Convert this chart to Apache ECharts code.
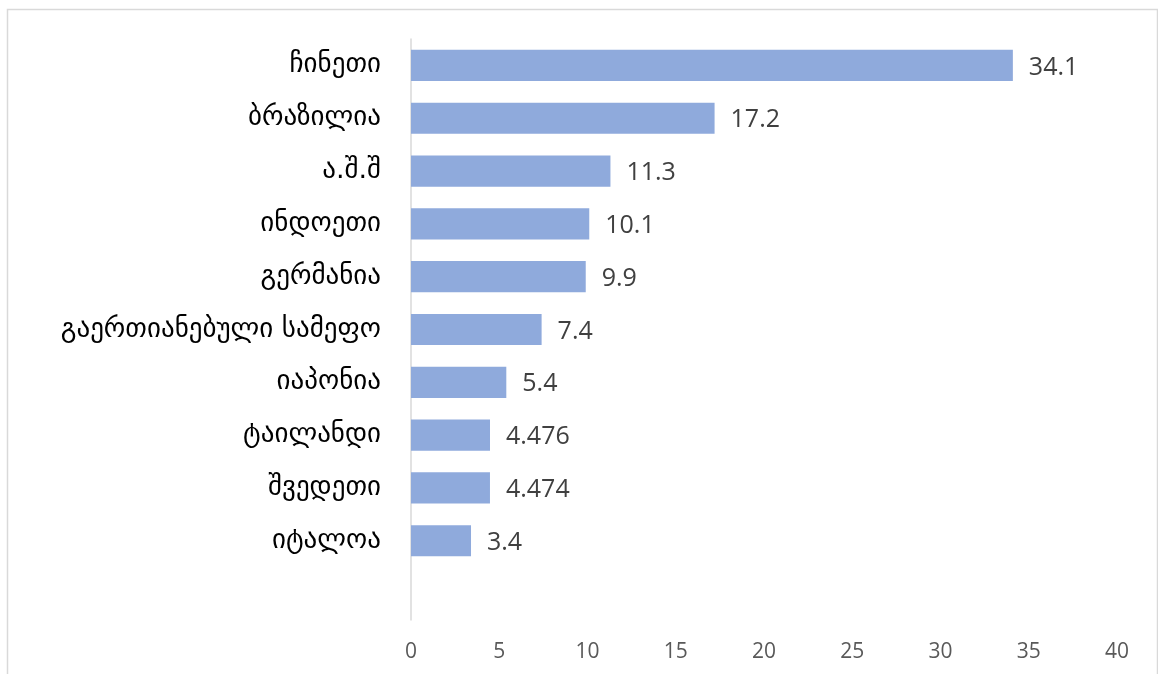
<!DOCTYPE html>
<html><head><meta charset="utf-8">
<script src="https://cdn.jsdelivr.net/npm/echarts@6/dist/echarts.min.js"></script>
<style>html,body{margin:0;padding:0;background:#fff}#c{width:1158px;height:674px}</style>
</head><body><div id="c"></div>
<script>
const categories = ['ჩინეთი','ბრაზილია','ა.შ.შ','ინდოეთი','გერმანია','გაერთიანებული სამეფო','იაპონია','ტაილანდი','შვედეთი','იტალოა',''];
const values = [34.1,17.2,11.3,10.1,9.9,7.4,5.4,4.476,4.474,3.4,null];
const valueLabels = ['34.1','17.2','11.3','10.1','9.9','7.4','5.4','4.476','4.474','3.4',''];
const chart = echarts.init(document.getElementById('c'));
chart.setOption({
  animation:false,
  backgroundColor:'#fff',
  graphic:[{type:'rect',shape:{x:7.5,y:9.5,width:1150,height:700},style:{fill:'none',stroke:'#d9d9d9',lineWidth:1.5},silent:true}],
  grid:{left:411,right:41,top:39,bottom:54,containLabel:false},
  xAxis:{type:'value',min:0,max:40,interval:5,
    axisLine:{show:false},axisTick:{show:false},splitLine:{show:false},
    axisLabel:{color:'#595959',fontSize:21,fontFamily:'Open Sans',margin:22}},
  yAxis:{type:'category',data:categories,inverse:true,
    axisLine:{show:true,lineStyle:{color:'#d9d9d9',width:1.5}},axisTick:{show:false},
    axisLabel:{color:'#000',fontSize:27,fontFamily:'DejaVu Sans',margin:30}},
  series:[{type:'bar',data:values,barCategoryGap:'41%',
    itemStyle:{color:'#8FAADC'},
    label:{show:true,position:'right',distance:16,color:'#404040',fontSize:25,fontFamily:'Open Sans',
      offset:[0,2],
      formatter:p=>valueLabels[p.dataIndex]}}]
});
</script></body></html>
